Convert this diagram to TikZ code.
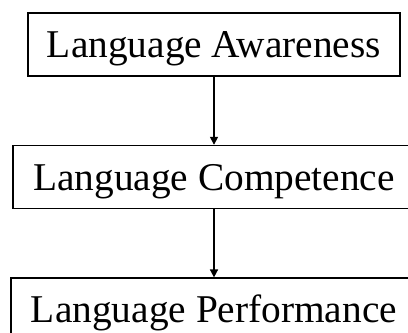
\documentclass[tikz,border=0pt]{standalone}
\usepackage{fontspec}
\setmainfont{Liberation Serif}
\usepackage{tikz}
\usetikzlibrary{arrows.meta, positioning}

\begin{document}
\begin{tikzpicture}[
			blocco/.style={draw, line width=1.6bp, inner sep=0pt,
				minimum height=63bp, text height=26bp, text depth=0pt,
				font=\fontsize{39.5}{47}\selectfont},
			freccia/.style={line width=1.6bp, -{Triangle[length=8bp,width=8bp]}},
			node distance=68bp
			]
			\useasboundingbox (0,0) rectangle (408bp,333bp);
			\clip (0,0) rectangle (408bp,333bp);
			% Primo blocco
			\node[blocco, minimum width=372bp] (aware) at (214bp,288.5bp) {Language Awareness};
			% Secondo e terzo blocco
			\node[blocco, minimum width=402bp, below=of aware] (comp) {Language Competence};
			\node[blocco, minimum width=406bp, below=of comp] (perf) {Language Performance};
			% Frecce
			\draw[freccia] (aware) -- (comp);
			\draw[freccia] (comp) -- (perf);
		\end{tikzpicture}
\end{document}
